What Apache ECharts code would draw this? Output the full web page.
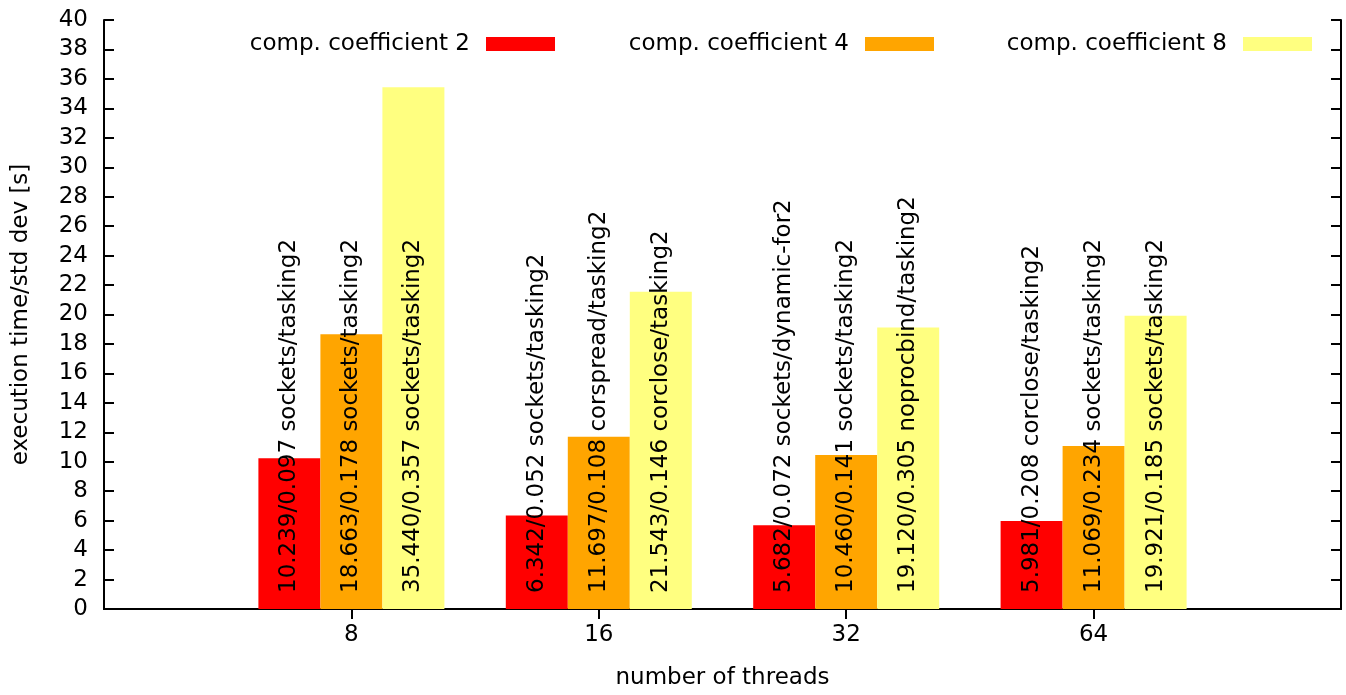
<!DOCTYPE html>
<html>
<head>
<meta charset="utf-8">
<script src="https://cdn.jsdelivr.net/npm/echarts@6/dist/echarts.min.js"></script>
<style>html,body{margin:0;padding:0;background:#fff;}#c{width:1346px;height:695px;}</style>
</head>
<body>
<div id="c"></div>
<script>
const categories = ['', '8', '16', '32', '64', ''];
const seriesNames = ['comp. coefficient 2', 'comp. coefficient 4', 'comp. coefficient 8'];
const coef2Values = [10.239, 6.342, 5.682, 5.981];
const coef4Values = [18.663, 11.697, 10.460, 11.069];
const coef8Values = [35.440, 21.543, 19.120, 19.921];
const coef2StdDev = ['0.097', '0.052', '0.072', '0.208'];
const coef4StdDev = ['0.178', '0.108', '0.141', '0.234'];
const coef8StdDev = ['0.357', '0.146', '0.305', '0.185'];
const coef2Config = ['sockets/tasking2', 'sockets/tasking2', 'sockets/dynamic-for2', 'corclose/tasking2'];
const coef4Config = ['sockets/tasking2', 'corspread/tasking2', 'sockets/tasking2', 'sockets/tasking2'];
const coef8Config = ['sockets/tasking2', 'corclose/tasking2', 'noprocbind/tasking2', 'sockets/tasking2'];
const colors = ['#ff0000', '#ffa500', '#ffff80'];

const FONT = 'DejaVu Sans';
const FS = 23;

function mkSeries(name, vals, sds, cfgs, color) {
  return {
    name: name,
    type: 'bar',
    barWidth: 62,
    barGap: '0%',
    itemStyle: { color: color },
    data: vals.map((v, i) => ({ value: [i + 1, v], sd: sds[i], cfg: cfgs[i] })),
    label: {
      show: true,
      position: 'insideBottom',
      distance: 16,
      rotate: 90,
      align: 'left',
      verticalAlign: 'middle',
      color: '#000',
      fontFamily: FONT,
      fontSize: FS,
      formatter: p => p.data.value[1].toFixed(3) + '/' + p.data.sd + ' ' + p.data.cfg
    },
    labelLayout: { hideOverlap: false }
  };
}

const tickShow = (idx) => idx >= 1 && idx <= 4;
const axLine = { show: true, lineStyle: { color: '#000', width: 2 } };

const legends = seriesNames.map((n, i) => ({
  data: [n],
  right: [791, 412, 34][i],
  top: 32,
  padding: 0,
  align: 'right',
  icon: 'rect',
  itemWidth: 69,
  itemHeight: 14,
  selectedMode: false,
  textStyle: { fontFamily: FONT, fontSize: FS, color: '#000', lineHeight: 24, padding: [0, 11, 0, 0] }
}));

const option = {
  animation: false,
  backgroundColor: '#fff',
  legend: legends,
  grid: { left: 104, right: 5, top: 20, bottom: 81, containLabel: false },
  xAxis: [{
    type: 'category',
    data: categories,
    boundaryGap: false,
    name: 'number of threads',
    nameLocation: 'middle',
    nameGap: 58,
    nameTextStyle: { fontFamily: FONT, fontSize: FS, color: '#000' },
    axisLine: axLine,
    axisTick: { show: true, inside: true, length: 10, interval: tickShow, lineStyle: { color: '#000', width: 2 } },
    axisLabel: { interval: tickShow, margin: 15, fontFamily: FONT, fontSize: FS, color: '#000' },
    splitLine: { show: false }
  }, {
    type: 'category',
    data: categories,
    boundaryGap: false,
    position: 'top',
    axisLine: axLine,
    axisTick: { show: true, inside: true, length: 10, interval: tickShow, lineStyle: { color: '#000', width: 2 } },
    axisLabel: { show: false },
    splitLine: { show: false }
  }],
  yAxis: [{
    type: 'value',
    min: 0, max: 40, interval: 2,
    name: 'execution time/std dev [s]',
    nameLocation: 'middle',
    nameGap: 71,
    nameTextStyle: { fontFamily: FONT, fontSize: FS, color: '#000' },
    axisLine: axLine,
    axisTick: { show: true, inside: true, length: 10, lineStyle: { color: '#000', width: 2 } },
    axisLabel: { margin: 16, fontFamily: FONT, fontSize: FS, color: '#000' },
    splitLine: { show: false }
  }, {
    type: 'value',
    min: 0, max: 40, interval: 2,
    position: 'right',
    axisLine: axLine,
    axisTick: { show: true, inside: true, length: 10, lineStyle: { color: '#000', width: 2 } },
    axisLabel: { show: false },
    splitLine: { show: false }
  }],
  series: [
    mkSeries(seriesNames[0], coef2Values, coef2StdDev, coef2Config, colors[0]),
    mkSeries(seriesNames[1], coef4Values, coef4StdDev, coef4Config, colors[1]),
    mkSeries(seriesNames[2], coef8Values, coef8StdDev, coef8Config, colors[2])
  ]
};

const chart = echarts.init(document.getElementById('c'), null, { renderer: 'canvas' });
chart.setOption(option);
</script>
</body>
</html>
